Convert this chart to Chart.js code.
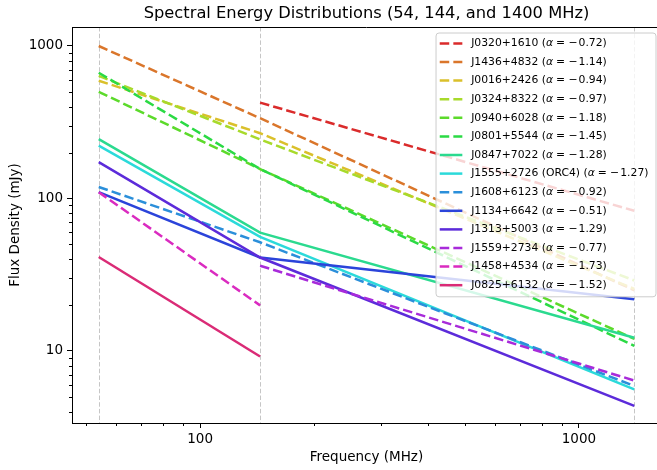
<!DOCTYPE html>
<html>
<head>
<meta charset="utf-8">
<title>Spectral Energy Distributions</title>
<script src="https://cdn.jsdelivr.net/npm/chart.js@4.4.1/dist/chart.umd.min.js"></script>
<style>
    html, body { margin: 0; padding: 0; overflow: hidden; background: #fff; }
    #sed { display: block; }
</style>
</head>
<body>
<canvas id="sed" width="665" height="470"></canvas>
<script>
// observing bands (MHz)
var frequencies = [54, 144, 1400];

var sourceNames = [
    'J0320+1610', 'J1436+4832', 'J0016+2426', 'J0324+8322', 'J0940+6028',
    'J0801+5544', 'J0847+7022', 'J1555+2726 (ORC4)', 'J1608+6123', 'J1134+6642',
    'J1313+5003', 'J1559+2734', 'J1458+4534', 'J0825+6132'
];
var spectralIndex = [-0.72, -1.14, -0.94, -0.97, -1.18, -1.45, -1.28, -1.27, -0.92, -0.51, -1.29, -0.77, -1.73, -1.52];

// flux densities in mJy, null where the source has no measurement
var flux54 = [null, 1000, 592, 636, 501, 668, 245, 222, 119, 110, 173, null, 110, 41.3];
var flux144 = [425, 336, 268, 244, 156, 156, 59.7, 56, 51.6, 41, 41, 36.2, 19.9, 9.2];
var flux1400 = [83, 25, 25.5, 29, 12.0, 10.8, 12.2, 5.6, 5.9, 21.8, 4.36, 6.4, null, null];

var majorTicksX = [100, 1000];
var minorTicksX = [50, 60, 70, 80, 90, 200, 300, 400, 500, 600, 700, 800, 900];
var majorTicksY = [10, 100, 1000];
var minorTicksY = [4, 5, 6, 7, 8, 9, 20, 30, 40, 50, 60, 70, 80, 90, 200, 300, 400, 500, 600, 700, 800, 900];

var titleText = 'Spectral Energy Distributions (54, 144, and 1400 MHz)';

var dashedSources = [
    'J0320+1610', 'J1436+4832', 'J0016+2426', 'J0324+8322', 'J0940+6028',
    'J0801+5544', 'J1608+6123', 'J1559+2734', 'J1458+4534'
];

var FONT = "'DejaVu Sans', sans-serif";
var LINE_WIDTH = 2.5;
var DASH = [9.5, 4.1];

function lineColor(i) {
    var hue = i * 360 / sourceNames.length;
    return 'hsl(' + hue.toFixed(1) + ', 70%, 51%)';
}

var datasets = sourceNames.map(function (name, i) {
    var fluxes = [flux54[i], flux144[i], flux1400[i]];
    var points = [];

    frequencies.forEach(function (f, k) {
        if (fluxes[k] !== null) {
            points.push({ x: f, y: fluxes[k] });
        }
    });

    return {
        label: name,
        data: points,
        borderColor: lineColor(i),
        backgroundColor: lineColor(i),
        borderWidth: LINE_WIDTH,
        borderDash: dashedSources.indexOf(name) >= 0 ? DASH : [],
        borderCapStyle: 'butt',
        pointRadius: 0,
        tension: 0,
        fill: false,
        order: -i
    };
});

function tickList(values) {
    return values.map(function (v) { return { value: v }; });
}

function majorOnly(majors) {
    return function (ctx) {
        return majors.indexOf(ctx.tick.value) >= 0 ? '#000' : 'rgba(0,0,0,0)';
    };
}

// title centred over the plotting area rather than the whole canvas
var plotTitle = {
    id: 'plotTitle',
    afterDraw: function (chart) {
        var ctx = chart.ctx, area = chart.chartArea;

        ctx.save();
        ctx.font = '16.3px ' + FONT;
        ctx.fillStyle = '#000';
        ctx.textAlign = 'center';
        ctx.textBaseline = 'middle';
        ctx.fillText(titleText, (area.left + area.right) / 2, 14);
        ctx.restore();
    }
};

// dashed markers at each observing frequency
var bandLines = {
    id: 'bandLines',
    beforeDatasetsDraw: function (chart) {
        var ctx = chart.ctx, area = chart.chartArea, x = chart.scales.x;

        ctx.save();
        ctx.strokeStyle = 'rgba(128,128,128,0.45)';
        ctx.lineWidth = 1;
        ctx.setLineDash([4.5, 2.2]);
        frequencies.forEach(function (f) {
            var px = Math.round(x.getPixelForValue(f)) + 0.5;
            ctx.beginPath();
            ctx.moveTo(px, area.top);
            ctx.lineTo(px, area.bottom);
            ctx.stroke();
        });
        ctx.restore();
    }
};

// top/right spines and the short minor tick marks
var frame = {
    id: 'frame',
    afterDraw: function (chart) {
        var ctx = chart.ctx, area = chart.chartArea;
        var x = chart.scales.x, y = chart.scales.y;

        ctx.save();
        ctx.strokeStyle = '#000';
        ctx.lineWidth = 1;
        ctx.beginPath();
        ctx.moveTo(area.left, Math.round(area.top) + 0.5);
        ctx.lineTo(area.right, Math.round(area.top) + 0.5);
        ctx.moveTo(Math.round(area.right) - 0.5, area.top);
        ctx.lineTo(Math.round(area.right) - 0.5, area.bottom);

        minorTicksX.forEach(function (v) {
            var px = Math.round(x.getPixelForValue(v)) + 0.5;
            ctx.moveTo(px, area.bottom);
            ctx.lineTo(px, area.bottom + 3);
        });
        minorTicksY.forEach(function (v) {
            var py = Math.round(y.getPixelForValue(v)) + 0.5;
            ctx.moveTo(area.left, py);
            ctx.lineTo(area.left - 3, py);
        });
        ctx.stroke();
        ctx.restore();
    }
};

// legend box sitting inside the plot, upper right
var legendBox = {
    id: 'legendBox',
    afterDatasetsDraw: function (chart) {
        var ctx = chart.ctx, area = chart.chartArea;
        var fs = 10.8;
        var plain = fs + 'px ' + FONT;
        var italic = 'italic ' + fs + 'px ' + FONT;
        var gaps = [0.28 * fs, 0.3 * fs, 0.1 * fs];
        var rowStep = 18.6;
        var handleLen = 22.6;
        var handlePad = 8.8;

        function pieces(i) {
            return [
                { text: sourceNames[i] + ' (', font: plain, gap: 0 },
                { text: '\u03b1', font: italic, gap: 0 },
                { text: '=', font: plain, gap: gaps[0] },
                { text: '\u2212', font: plain, gap: gaps[1] },
                { text: Math.abs(spectralIndex[i]).toFixed(2) + ')', font: plain, gap: gaps[2] }
            ];
        }

        function measure(parts) {
            var w = 0;
            parts.forEach(function (p) {
                ctx.font = p.font;
                w += p.gap + ctx.measureText(p.text).width;
            });
            return w;
        }

        var maxW = 0;
        sourceNames.forEach(function (n, i) {
            maxW = Math.max(maxW, measure(pieces(i)));
        });

        var right = area.right - 5;
        var top = area.top + 6;
        var width = 3.7 + handleLen + handlePad + maxW + 7.5;
        var left = right - width;
        var height = 10.4 + (sourceNames.length - 1) * rowStep + 11.6;
        var r = 3;

        ctx.save();
        ctx.beginPath();
        ctx.moveTo(left + r, top);
        ctx.lineTo(right - r, top);
        ctx.arcTo(right, top, right, top + r, r);
        ctx.lineTo(right, top + height - r);
        ctx.arcTo(right, top + height, right - r, top + height, r);
        ctx.lineTo(left + r, top + height);
        ctx.arcTo(left, top + height, left, top + height - r, r);
        ctx.lineTo(left, top + r);
        ctx.arcTo(left, top, left + r, top, r);
        ctx.closePath();
        ctx.fillStyle = 'rgba(255,255,255,0.8)';
        ctx.fill();
        ctx.strokeStyle = '#cccccc';
        ctx.lineWidth = 1;
        ctx.stroke();

        chart.data.datasets.forEach(function (ds, i) {
            var cy = top + 10.4 + i * rowStep;
            var hx = left + 3.7;

            ctx.beginPath();
            ctx.strokeStyle = ds.borderColor;
            ctx.lineWidth = LINE_WIDTH;
            ctx.lineCap = 'butt';
            ctx.setLineDash(ds.borderDash);
            ctx.moveTo(hx, cy);
            ctx.lineTo(hx + handleLen, cy);
            ctx.stroke();
            ctx.setLineDash([]);

            var tx = hx + handleLen + handlePad;
            ctx.fillStyle = '#000';
            ctx.textBaseline = 'middle';
            ctx.textAlign = 'left';
            pieces(i).forEach(function (p) {
                ctx.font = p.font;
                tx += p.gap;
                ctx.fillText(p.text, tx, cy);
                tx += ctx.measureText(p.text).width;
            });
        });
        ctx.restore();
    }
};

var canvas = document.getElementById('sed');

var chart = new Chart(canvas, {
    type: 'line',
    data: { datasets: datasets },
    options: {
        responsive: false,
        animation: false,
        parsing: false,
        layout: { padding: { left: 0, right: 4, top: 27, bottom: 0 } },
        plugins: {
            legend: { display: false },
            tooltip: { enabled: false },
            title: { display: false }
        },
        scales: {
            x: {
                type: 'logarithmic',
                min: 45.9,
                max: 1647,
                afterBuildTicks: function (scale) {
                    scale.ticks = tickList(minorTicksX.concat(majorTicksX).sort(function (a, b) { return a - b; }));
                },
                afterFit: function (scale) {
                    scale.height = 47;
                },
                ticks: {
                    autoSkip: false,
                    maxRotation: 0,
                    padding: 3,
                    color: '#000',
                    font: { family: FONT, size: 13.5 },
                    callback: function (value) {
                        return majorTicksX.indexOf(value) >= 0 ? String(value) : '';
                    }
                },
                grid: {
                    drawOnChartArea: false,
                    tickLength: 5,
                    tickColor: majorOnly(majorTicksX)
                },
                border: { display: true, color: '#000', width: 1 },
                title: {
                    display: true,
                    text: 'Frequency (MHz)',
                    color: '#000',
                    font: { family: FONT, size: 13.5 },
                    padding: { top: 0, bottom: 4 }
                }
            },
            y: {
                type: 'logarithmic',
                min: 3.37,
                max: 1332,
                afterBuildTicks: function (scale) {
                    scale.ticks = tickList(minorTicksY.concat(majorTicksY).sort(function (a, b) { return a - b; }));
                },
                afterFit: function (scale) {
                    scale.width = 72;
                },
                ticks: {
                    autoSkip: false,
                    padding: 4,
                    color: '#000',
                    font: { family: FONT, size: 13.5 },
                    callback: function (value) {
                        return majorTicksY.indexOf(value) >= 0 ? String(value) : '';
                    }
                },
                grid: {
                    drawOnChartArea: false,
                    tickLength: 5,
                    tickColor: majorOnly(majorTicksY)
                },
                border: { display: true, color: '#000', width: 1 },
                title: {
                    display: true,
                    text: 'Flux Density (mJy)',
                    color: '#000',
                    font: { family: FONT, size: 13.5 },
                    padding: { top: 7, bottom: 0 }
                }
            }
        }
    },
    plugins: [bandLines, legendBox, frame, plotTitle]
});
</script>
</body>
</html>
